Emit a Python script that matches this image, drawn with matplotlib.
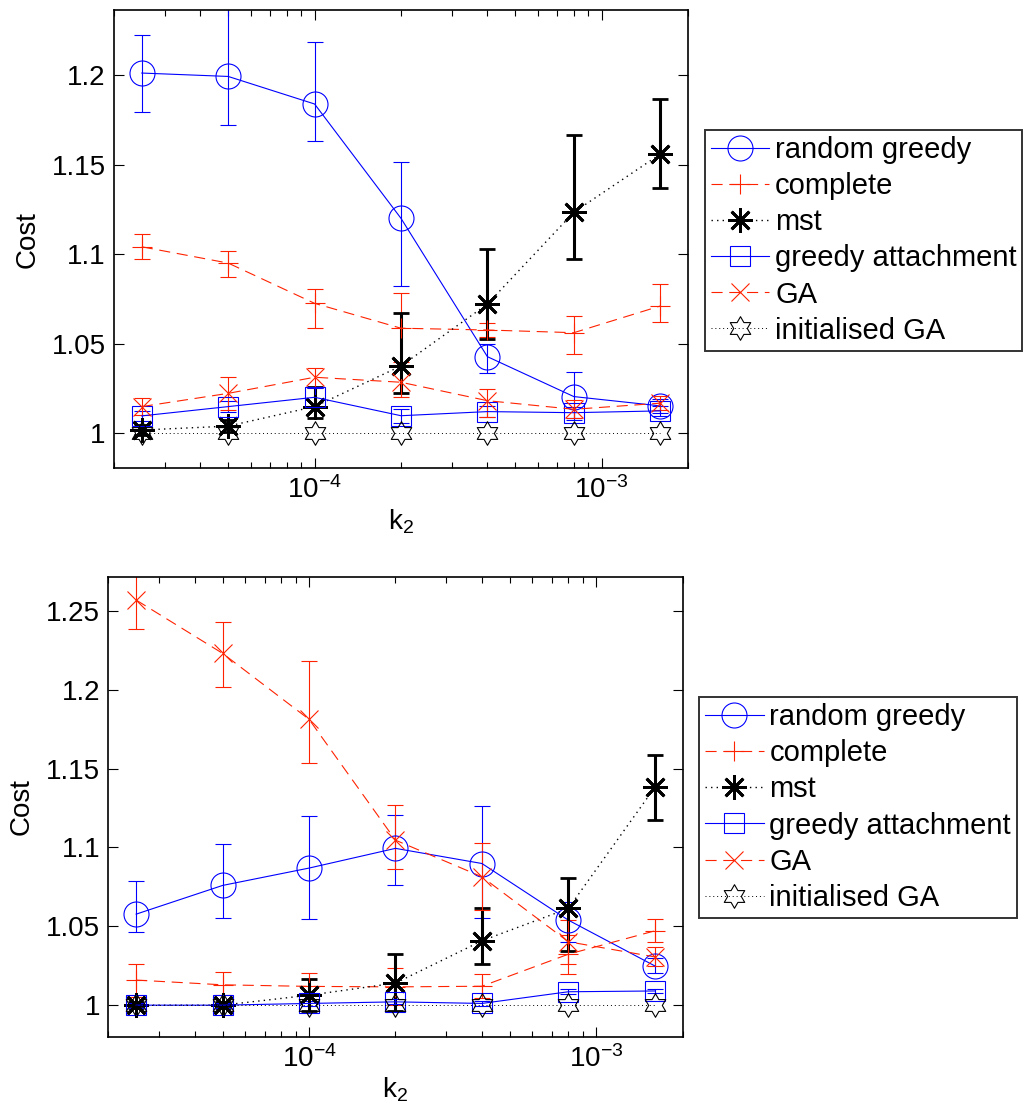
import numpy as np
import matplotlib
matplotlib.use('Agg')
import matplotlib.pyplot as plt
from matplotlib.path import Path
from matplotlib.ticker import FixedLocator, FuncFormatter, LogLocator, NullFormatter

plt.rcParams['font.family'] = ['Liberation Sans', 'DejaVu Sans']
plt.rcParams['mathtext.fontset'] = 'custom'
plt.rcParams['mathtext.rm'] = 'Liberation Sans'
plt.rcParams['mathtext.it'] = 'Liberation Sans:italic'

# k2 values (shared by both panels)
k2 = [2.5e-5, 5e-5, 1e-4, 2e-4, 4e-4, 8e-4, 1.6e-3]

labels = ['random greedy', 'complete', 'mst', 'greedy attachment', 'GA', 'initialised GA']

# ---- top panel: mean, lower and upper end of the error bar ----
top_rg = [1.2013, 1.1994, 1.1840, 1.1201, 1.0428, 1.0205, 1.0153]
top_rg_lo = [1.1795, 1.1720, 1.1635, 1.0825, 1.0339, 1.0075, 1.0113]
top_rg_hi = [1.2227, 1.2400, 1.2186, 1.1514, 1.0497, 1.0342, 1.0193]

top_cp = [1.1042, 1.0951, 1.0726, 1.0587, 1.0577, 1.0562, 1.0711]
top_cp_lo = [1.0975, 1.0872, 1.0590, 1.0400, 1.0537, 1.0443, 1.0620]
top_cp_hi = [1.1112, 1.1018, 1.0804, 1.0782, 1.0617, 1.0657, 1.0836]

top_mst = [1.0018, 1.0040, 1.0149, 1.0376, 1.0722, 1.1235, 1.1560]
top_mst_lo = [0.9988, 1.0005, 1.0087, 1.0227, 1.0528, 1.0974, 1.1370]
top_mst_hi = [1.0048, 1.0075, 1.0257, 1.0670, 1.1031, 1.1666, 1.1868]

top_ga_att = [1.0097, 1.0149, 1.0201, 1.0098, 1.0121, 1.0115, 1.0125]
top_ga_att_lo = [1.0067, 1.0119, 1.0151, 1.0056, 1.0091, 1.0085, 1.0095]
top_ga_att_hi = [1.0127, 1.0179, 1.0251, 1.0136, 1.0151, 1.0145, 1.0155]

top_ga = [1.0149, 1.0223, 1.0313, 1.0285, 1.0182, 1.0134, 1.0168]
top_ga_lo = [1.0102, 1.0130, 1.0260, 1.0200, 1.0093, 1.0084, 1.0128]
top_ga_hi = [1.0196, 1.0316, 1.0363, 1.0380, 1.0246, 1.0184, 1.0208]

top_init = [1.0, 1.0, 1.0, 1.0, 1.0, 1.0, 1.0]

# ---- bottom panel ----
bot_rg = [1.0577, 1.0759, 1.0869, 1.0994, 1.0898, 1.0539, 1.0249]
bot_rg_lo = [1.0461, 1.0552, 1.0545, 1.0759, 1.0550, 1.0402, 1.0201]
bot_rg_hi = [1.0788, 1.1021, 1.1200, 1.1205, 1.1262, 1.0655, 1.0296]

bot_cp = [1.0159, 1.0129, 1.0119, 1.0116, 1.0120, 1.0323, 1.0471]
bot_cp_lo = [1.0053, 1.0063, 1.0040, 1.0000, 1.0045, 1.0200, 1.0402]
bot_cp_hi = [1.0264, 1.0211, 1.0205, 1.0233, 1.0195, 1.0446, 1.0545]

bot_mst = [1.0000, 1.0000, 1.0063, 1.0140, 1.0408, 1.0613, 1.1380]
bot_mst_lo = [0.9980, 0.9980, 0.9960, 0.9960, 1.0258, 1.0345, 1.1173]
bot_mst_hi = [1.0020, 1.0020, 1.0169, 1.0323, 1.0613, 1.0807, 1.1585]

bot_ga_att = [1.0000, 1.0000, 1.0011, 1.0021, 1.0011, 1.0085, 1.0090]
bot_ga_att_lo = [0.9985, 0.9985, 0.9996, 1.0006, 0.9996, 1.0070, 1.0075]
bot_ga_att_hi = [1.0015, 1.0015, 1.0026, 1.0036, 1.0026, 1.0100, 1.0105]

bot_ga = [1.2568, 1.2230, 1.1812, 1.1046, 1.0814, 1.0402, 1.0306]
bot_ga_lo = [1.2382, 1.2015, 1.1535, 1.0860, 1.0604, 1.0262, 1.0246]
bot_ga_hi = [1.2754, 1.2431, 1.2181, 1.1268, 1.1025, 1.0542, 1.0366]

bot_init = [1.0, 1.0, 1.0, 1.0, 1.0, 1.0, 1.0]

BLUE = '#0000ff'
RED = '#ff2200'
FS = 20
hexagram = Path.unit_regular_star(6, 0.577)


def draw_panel(ax, series, ylim, yticks, legend_anchor, fig):
    handles = []
    styles = [
        dict(color=BLUE, ls='-', marker='o', ms=18, lw=0.8, elw=0.8),
        dict(color=RED, ls=(0, (10, 6)), marker='+', ms=14, lw=0.8, elw=0.8),
        dict(color='black', ls=(0, (1, 3)), marker=(8, 2, 0), ms=18, lw=1.0, elw=2.2, mew=2.0),
        dict(color=BLUE, ls='-', marker='s', ms=14, lw=0.8, elw=0.8),
        dict(color=RED, ls=(0, (10, 6)), marker='x', ms=13, lw=0.8, elw=0.8),
        dict(color='black', ls=(0, (1, 3)), marker=hexagram, ms=17, lw=0.7, elw=0.8),
    ]
    for (mean, lo, hi), st, lab in zip(series, styles, labels):
        mean = np.array(mean)
        yerr = None
        if lo is not None:
            yerr = [mean - np.array(lo), np.array(hi) - mean]
        cont = ax.errorbar(k2, mean, yerr=yerr, color=st['color'], ls=st['ls'],
                           lw=st['lw'], marker=st['marker'], ms=st['ms'],
                           mfc='none', mec=st['color'], mew=st.get('mew', 0.8),
                           elinewidth=st['elw'], capsize=6, capthick=st['elw'],
                           label=lab)
        handles.append(cont.lines[0])

    ax.set_xscale('log')
    ax.set_xlim(2e-5, 2e-3)
    ax.set_ylim(*ylim)
    ax.yaxis.set_major_locator(FixedLocator(yticks))
    ax.yaxis.set_major_formatter(FuncFormatter(lambda v, p: '%g' % v))
    ax.xaxis.set_major_locator(LogLocator(base=10))
    ax.xaxis.set_minor_locator(LogLocator(base=10, subs=np.arange(2, 10)))
    ax.xaxis.set_minor_formatter(NullFormatter())
    ax.tick_params(which='both', direction='in', top=True, right=True, labelsize=FS)
    ax.tick_params(which='major', length=7, width=0.8, pad=6)
    ax.tick_params(which='minor', length=4, width=0.8)
    for sp in ax.spines.values():
        sp.set_linewidth(1.2)
    ax.set_xlabel('k$_2$', fontsize=FS, labelpad=2)
    ax.set_ylabel('Cost', fontsize=FS, labelpad=8)

    leg = fig.legend(handles, labels, loc='upper left', bbox_to_anchor=legend_anchor,
                     fontsize=FS + 1, frameon=True, fancybox=False, edgecolor='black',
                     handlelength=2.0, handletextpad=0.2, labelspacing=0.28,
                     borderpad=0.2, borderaxespad=0)
    leg.get_frame().set_linewidth(1.4)


fig = plt.figure(figsize=(10.24, 11.18), dpi=100)
ax1 = fig.add_axes([0.1113, 0.5811, 0.5606, 0.4099])
ax2 = fig.add_axes([0.1058, 0.0727, 0.5608, 0.4109])

top_series = [
    (top_rg, top_rg_lo, top_rg_hi),
    (top_cp, top_cp_lo, top_cp_hi),
    (top_mst, top_mst_lo, top_mst_hi),
    (top_ga_att, top_ga_att_lo, top_ga_att_hi),
    (top_ga, top_ga_lo, top_ga_hi),
    (top_init, None, None),
]
bot_series = [
    (bot_rg, bot_rg_lo, bot_rg_hi),
    (bot_cp, bot_cp_lo, bot_cp_hi),
    (bot_mst, bot_mst_lo, bot_mst_hi),
    (bot_ga_att, bot_ga_att_lo, bot_ga_att_hi),
    (bot_ga, bot_ga_lo, bot_ga_hi),
    (bot_init, None, None),
]

draw_panel(ax1, top_series, (0.9804, 1.2365), [1, 1.05, 1.1, 1.15, 1.2], (0.6885, 0.8837), fig)
draw_panel(ax2, bot_series, (0.980, 1.2712), [1, 1.05, 1.1, 1.15, 1.2, 1.25], (0.6830, 0.3763), fig)

fig.savefig('out.png', dpi=100)
